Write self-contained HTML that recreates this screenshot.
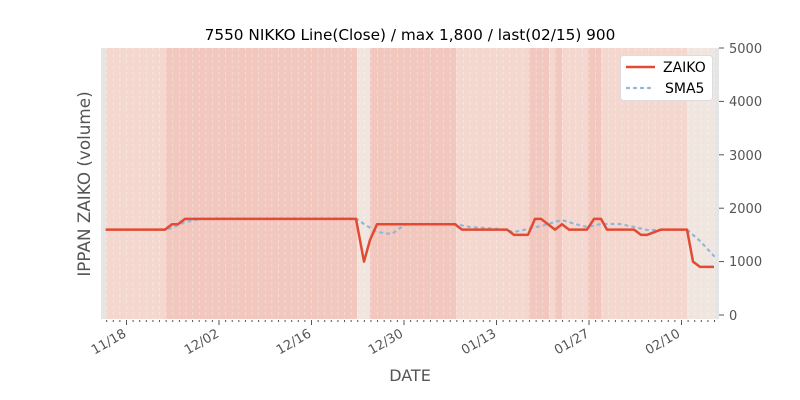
<!DOCTYPE html>
<html><head><meta charset="utf-8"><style>
body{margin:0;background:#fff;width:800px;height:400px;overflow:hidden}
svg{display:block;font-family:"DejaVu Sans","Liberation Sans",sans-serif}
</style></head><body>
<svg id="s" width="800" height="400" viewBox="0 0 800 400">
<rect x="101" y="48" width="618" height="271" fill="#e5e5e5"/>
<rect x="106" y="48" width="60" height="271" fill="#f4d7cf"/>
<rect x="166" y="48" width="191" height="271" fill="#f1c7be"/>
<rect x="357" y="48" width="13" height="271" fill="#f1e6df"/>
<rect x="370" y="48" width="86" height="271" fill="#f1c7be"/>
<rect x="456" y="48" width="73" height="271" fill="#f4d7cf"/>
<rect x="529" y="48" width="20" height="271" fill="#f1c7be"/>
<rect x="549" y="48" width="6" height="271" fill="#f4d7cf"/>
<rect x="555" y="48" width="7" height="271" fill="#f1c7be"/>
<rect x="562" y="48" width="26" height="271" fill="#f4d7cf"/>
<rect x="588" y="48" width="13" height="271" fill="#f1c7be"/>
<rect x="601" y="48" width="86" height="271" fill="#f4d7cf"/>
<rect x="687" y="48" width="27" height="271" fill="#f1e6df"/>
<g id="grid" stroke="#fff" stroke-opacity="0.45" stroke-width="0.8" stroke-dasharray="3,3"></g>
<g id="ticks" stroke="#555"></g>
<polyline fill="none" stroke="#8fb8d8" stroke-width="2.2" stroke-dasharray="2,5" stroke-linecap="round" points="106,229.6 165,229.6 172,228 185,222 200,219 215,218.5 356,218.5 364,224 377,232 392,234 400,228 407,224 455,224 470,227 500,229 514,232 528,229 541,226 555,222 562,220 575,224 587,227 601,224 620,224 634,227 647,230 661,230 687,229.6 700,241 714,256"/>
<polyline fill="none" stroke="#e24a33" stroke-width="2.5" stroke-linejoin="round" points="106,229.6 165,229.6 172,224.2 178,224.2 185,218.9 356,218.9 364,261.6 370,240 377,224.2 455,224.2 462,229.6 507,229.6 514,234.9 528,234.9 535,218.9 541,218.9 555,229.6 562,224.2 569,229.6 587,229.6 594,218.9 601,218.9 607,229.6 634,229.6 641,234.9 647,234.9 661,229.6 687,229.6 693,261.6 700,266.9 714,266.9"/>
<g stroke="#555"><line x1="719" y1="48" x2="724" y2="48"/><line x1="719" y1="101.4" x2="724" y2="101.4"/><line x1="719" y1="154.8" x2="724" y2="154.8"/><line x1="719" y1="208.2" x2="724" y2="208.2"/><line x1="719" y1="261.6" x2="724" y2="261.6"/><line x1="719" y1="315" x2="724" y2="315"/></g>
<g font-size="13" fill="#555"><text x="729" y="53">5000</text><text x="729" y="106">4000</text><text x="729" y="160">3000</text><text x="729" y="213">2000</text><text x="729" y="266">1000</text><text x="729" y="320">0</text></g>
<g font-size="13" fill="#555" text-anchor="end">
<text transform="translate(127,336) rotate(-30)">11/18</text>
<text transform="translate(220,336) rotate(-30)">12/02</text>
<text transform="translate(312,336) rotate(-30)">12/16</text>
<text transform="translate(404,336) rotate(-30)">12/30</text>
<text transform="translate(497,336) rotate(-30)">01/13</text>
<text transform="translate(590,336) rotate(-30)">01/27</text>
<text transform="translate(681,336) rotate(-30)">02/10</text>
</g>
<text x="410" y="381" font-size="16" fill="#555" text-anchor="middle">DATE</text>
<text transform="translate(90,184) rotate(-90)" font-size="16.8" fill="#555" text-anchor="middle">IPPAN ZAIKO (volume)</text>
<text x="410" y="40" font-size="15.3" fill="#000" text-anchor="middle">7550 NIKKO Line(Close) / max 1,800 / last(02/15) 900</text>
<rect x="620.5" y="55.5" width="92" height="45" rx="3" fill="#fff" stroke="#ddd"/>
<line x1="626" y1="67" x2="655" y2="67" stroke="#e24a33" stroke-width="2.5"/>
<line x1="627" y1="88" x2="655" y2="88" stroke="#8fb8d8" stroke-width="2.2" stroke-dasharray="2,5" stroke-linecap="round"/>
<text x="663" y="72" font-size="14" fill="#000">ZAIKO</text>
<text x="665" y="93" font-size="14" fill="#000">SMA5</text>
</svg>
<script>
var g=document.getElementById('grid'),t=document.getElementById('ticks'),ns='http://www.w3.org/2000/svg';
for(var d=-4;d<=90;d++){var x=126.5+d*6.607;if(x<101||x>719)continue;
var l=document.createElementNS(ns,'line');l.setAttribute('x1',x);l.setAttribute('x2',x);l.setAttribute('y1',48);l.setAttribute('y2',319);g.appendChild(l);
var m=document.createElementNS(ns,'line');m.setAttribute('x1',x);m.setAttribute('x2',x);m.setAttribute('y1',320);m.setAttribute('y2',(d%14==0)?325:322);t.appendChild(m);}
</script>
</body></html>
